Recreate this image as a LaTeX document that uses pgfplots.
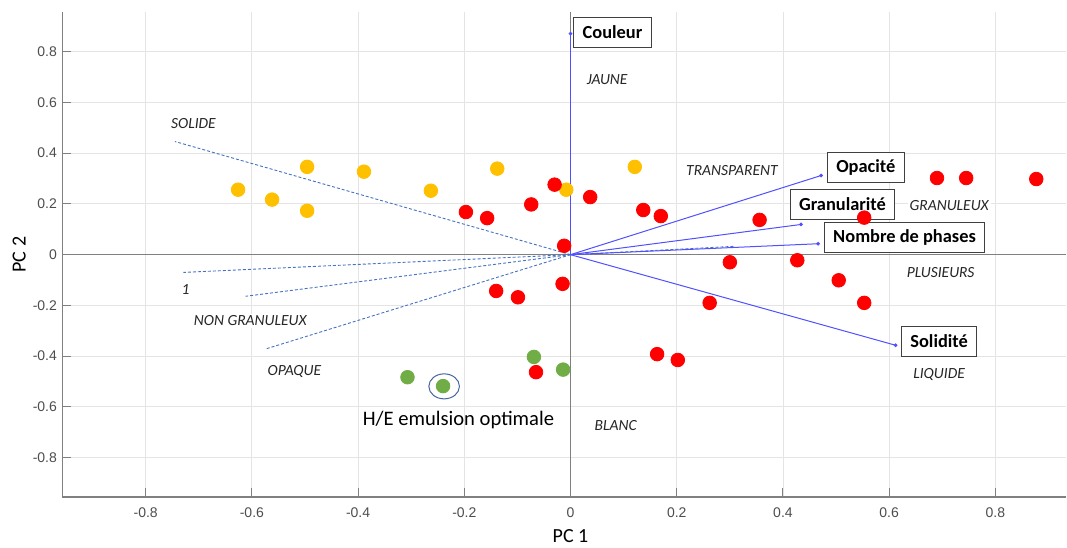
\documentclass[border=0pt]{standalone}
\usepackage{pgfplots}
\pgfplotsset{compat=1.18}
\usetikzlibrary{shapes.geometric}
\usepackage{fontspec}
\setmainfont{Carlito}
\newfontfamily\arial{Liberation Sans}
\definecolor{ptyellow}{RGB}{255,192,0}
\definecolor{ptred}{RGB}{255,0,0}
\definecolor{ptgreen}{RGB}{112,173,71}
\definecolor{vecblue}{RGB}{80,80,255}
\definecolor{dashblue}{RGB}{68,114,196}
\definecolor{axgray}{RGB}{128,128,128}
\definecolor{gridgray}{RGB}{228,228,228}
\definecolor{ticktext}{RGB}{77,77,77}
\definecolor{ellblue}{RGB}{70,100,160}
\begin{document}
\begin{tikzpicture}[
  lab/.style={fill=white, inner sep=1pt, font=\itshape\fontsize{7.75}{9}\selectfont, text=black!85},
  box/.style={draw=black!75, fill=white, line width=0.5pt, font=\bfseries\fontsize{9.2}{10}\selectfont, inner xsep=4.5pt, inner ysep=0pt, minimum height=15pt, anchor=center},
]
\useasboundingbox (-31.15pt,-25pt) rectangle (502.35pt,248.5pt);
\begin{axis}[
  at={(0,0)}, anchor=south west,
  scale only axis, width=501.85pt, height=242.35pt,
  xmin=-0.957, xmax=0.933, ymin=-0.955, ymax=0.955,
  axis x line*=bottom, axis y line*=left,
  axis line style={axgray, line width=0.65pt, -},
  xtick={-0.8,-0.6,-0.4,-0.2,0,0.2,0.4,0.6,0.8},
  xticklabels={-0.8,-0.6,-0.4,-0.2,0,0.2,0.4,0.6,0.8},
  ytick={-0.8,-0.6,-0.4,-0.2,0,0.2,0.4,0.6,0.8},
  yticklabels={-0.8,-0.6,-0.4,-0.2,0,0.2,0.4,0.6,0.8},
  tick align=inside, major tick length=4.5pt,
  tick style={axgray, line width=0.5pt},
  grid=major, major grid style={gridgray, line width=0.45pt},
  xticklabel style={font=\arial\fontsize{7}{8}\selectfont, text=ticktext, anchor=center, inner sep=0pt, yshift=-8pt},
  yticklabel style={font=\arial\fontsize{7}{8}\selectfont, text=ticktext, anchor=east, inner sep=0pt, xshift=-2.5pt},
  clip=false,
]
% zero lines
\draw[axgray, line width=0.75pt] (axis cs:0,-0.955) -- (axis cs:0,0.955);
\draw[axgray, line width=0.75pt] (axis cs:-0.957,0) -- (axis cs:0.933,0);

% dashed modality lines
\addplot[dashblue, dash pattern=on 1.5pt off 1pt, line width=0.45pt] coordinates {(0,0) (-0.745,0.446)};
\addplot[dashblue, dash pattern=on 1.5pt off 1pt, line width=0.45pt] coordinates {(0,0) (-0.729,-0.070)};
\addplot[dashblue, dash pattern=on 1.5pt off 1pt, line width=0.45pt] coordinates {(0,0) (-0.612,-0.164)};
\addplot[dashblue, dash pattern=on 1.5pt off 1pt, line width=0.45pt] coordinates {(0,0) (-0.573,-0.371)};
\addplot[dashblue, dash pattern=on 1.5pt off 1pt, line width=0.45pt] coordinates {(0,0) (0.31,0.033)};

% loading vectors
\addplot[vecblue, line width=0.5pt, mark=*, mark size=0.65pt, mark indices={2}] coordinates {(0,0) (0,0.871)};
\addplot[vecblue, line width=0.5pt, mark=*, mark size=0.65pt, mark indices={2}] coordinates {(0,0) (0.472,0.312)};
\addplot[vecblue, line width=0.5pt, mark=*, mark size=0.65pt, mark indices={2}] coordinates {(0,0) (0.434,0.119)};
\addplot[vecblue, line width=0.5pt, mark=*, mark size=0.65pt, mark indices={2}] coordinates {(0,0) (0.466,0.043)};
\addplot[vecblue, line width=0.5pt, mark=*, mark size=0.65pt, mark indices={2}] coordinates {(0,0) (0.612,-0.357)};

% modality labels
\node[lab] at (axis cs:-0.710,0.515) {SOLIDE};
\node[lab] at (axis cs:0.069,0.689) {JAUNE};
\node[lab] at (axis cs:0.304,0.332) {TRANSPARENT};
\node[lab] at (axis cs:0.713,0.193) {GRANULEUX};
\node[lab] at (axis cs:0.697,-0.072) {PLUSIEURS};
\node[lab] at (axis cs:0.694,-0.472) {LIQUIDE};
\node[lab] at (axis cs:0.085,-0.672) {BLANC};
\node[lab] at (axis cs:-0.725,-0.138) {1};
\node[lab] at (axis cs:-0.603,-0.260) {NON GRANULEUX};
\node[lab] at (axis cs:-0.520,-0.462) {OPAQUE};

% variable boxes
\node[box] at (axis cs:0.079,0.876) {Couleur};
\node[box] at (axis cs:0.556,0.343) {Opacité};
\node[box] at (axis cs:0.512,0.199) {Granularité};
\node[box] at (axis cs:0.629,0.067) {Nombre de phases};
\node[box] at (axis cs:0.694,-0.341) {Solidité};

% scores
\addplot[only marks, mark=*, mark size=3.4pt, color=ptyellow] coordinates {
(-0.626,0.256) (-0.562,0.217) (-0.496,0.346) (-0.496,0.173) (-0.389,0.327)
(-0.263,0.252) (-0.138,0.339) (-0.008,0.256) (0.121,0.346)};
\addplot[only marks, mark=*, mark size=3.4pt, color=ptred] coordinates {
(-0.030,0.276) (-0.197,0.168) (-0.157,0.144) (-0.074,0.198) (0.037,0.227)
(0.137,0.176) (0.170,0.152) (-0.012,0.035) (0.690,0.302) (0.745,0.302)
(0.877,0.298) (0.356,0.137) (0.553,0.146) (0.300,-0.030) (0.427,-0.022)
(0.505,-0.101) (0.553,-0.190) (0.262,-0.190) (-0.140,-0.143) (-0.099,-0.168)
(-0.015,-0.115) (-0.065,-0.463) (0.163,-0.392) (0.202,-0.415)};
\addplot[only marks, mark=*, mark size=3.4pt, color=ptgreen] coordinates {
(-0.307,-0.483) (-0.240,-0.518) (-0.069,-0.403) (-0.014,-0.453)};

\node[draw=ellblue, line width=0.5pt, ellipse, inner sep=0pt, minimum width=15.3pt, minimum height=12.5pt] at (axis cs:-0.238,-0.519) {};
\node[font=\fontsize{10.3}{12}\selectfont] at (axis cs:-0.211,-0.652) {H/E emulsion optimale};

% axis titles
\node[font=\fontsize{10}{11}\selectfont, inner sep=0pt] at (axis cs:0,-0.955) [yshift=-19.3pt] {PC 1};
\node[font=\fontsize{10}{11}\selectfont, rotate=90, inner sep=0pt] at (axis cs:-0.957,0) [yshift=21.5pt] {PC 2};
\end{axis}
\end{tikzpicture}
\end{document}
